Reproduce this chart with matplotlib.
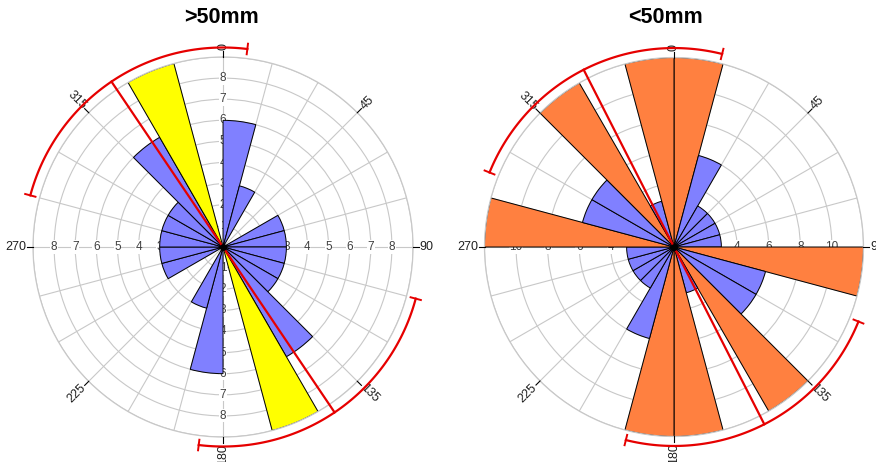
import numpy as np
import matplotlib
matplotlib.use('Agg')
import matplotlib.pyplot as plt

plt.rcParams['font.family'] = ['Liberation Sans', 'DejaVu Sans']

# 15 degree bins, compass bearing of the bin start
bin_start = np.arange(0, 360, 15)
bin_width = 15

# counts per bin, >50mm fractures
counts_large = [6, 3, 0, 0, 3, 3, 3, 3, 3, 6, 9, 0,
                6, 3, 0, 0, 3, 3, 3, 3, 3, 6, 9, 0]
# counts per bin, <50mm fractures
counts_small = [12, 6, 3, 3, 3, 3, 12, 6, 6, 12, 3, 12,
                12, 6, 3, 3, 3, 3, 12, 6, 6, 12, 3, 12]

# mean direction and confidence half-width (degrees)
mean_large, ci_large = 326, 41
mean_small, ci_small = 333, 41

titles = ['>50mm', '<50mm']
ring_max = [9, 12]
ring_step = [1, 2]
label_step = [1, 2]
peak_colors = ['#ffff00', '#ff8040']
base_color = '#8080ff'
red = '#e60000'
grid_col = '#c8c8c8'


def rose(ax, counts, rmax, rstep, lstep, peak_col, mean_dir, ci):
    ax.set_theta_zero_location('N')
    ax.set_theta_direction(-1)
    ax.set_ylim(0, rmax)
    ax.set_rgrids(np.arange(rstep, rmax + 0.1, rstep), labels=[])
    ax.set_thetagrids(np.arange(0, 360, 15), labels=[])
    ax.grid(True, color=grid_col, lw=0.8)
    ax.spines['polar'].set_color(grid_col)
    ax.spines['polar'].set_linewidth(0.9)
    ax.set_axisbelow(True)

    # ring values along the four main axes
    for ang in (0, 90, 180, 270):
        for v in np.arange(lstep, rmax - 0.5, lstep):
            ax.text(np.radians(ang), v, '%d' % v, ha='center', va='center',
                    fontsize=8.5, color='#404040', zorder=0.8,
                    bbox=dict(boxstyle='square,pad=0.05', fc='white', ec='none'))

    peak = max(counts)
    for b, c in zip(bin_start, counts):
        if c == 0:
            continue
        col = peak_col if c == peak else base_color
        ax.bar(np.radians(b), c, width=np.radians(bin_width), align='edge',
               color=col, edgecolor='black', linewidth=0.7, zorder=1)

    # direction ticks and labels outside the circle
    for d in range(0, 360, 45):
        th = np.radians(d)
        ax.plot([th, th], [rmax, rmax * 1.03], color='black', lw=0.8,
                clip_on=False, zorder=3)
        if d == 0:
            rot, ha = 90, 'left'
        elif d == 180:
            rot, ha = 90, 'right'
        elif d < 180:
            rot, ha = 90 - d, 'left'
        else:
            rot, ha = 270 - d, 'right'
        ax.text(th, rmax * 1.035, str(d), rotation=rot, rotation_mode='anchor',
                ha=ha, va='center', fontsize=9, color='#202020')

    # mean direction line and confidence arcs
    r_arc = rmax * 1.05
    cap = rmax * 0.028
    for m in (mean_dir, mean_dir - 180):
        th = np.radians(m)
        ax.plot([th, th], [0, r_arc], color=red, lw=1.6, zorder=4, clip_on=False)
        arc = np.radians(np.linspace(m - ci, m + ci, 120))
        ax.plot(arc, np.full_like(arc, r_arc), color=red, lw=1.6, zorder=4,
                clip_on=False)
        for e in (m - ci, m + ci):
            ax.plot([np.radians(e)] * 2, [r_arc - cap, r_arc + cap], color=red,
                    lw=1.4, zorder=4, clip_on=False)

    ax.plot(0, 0, 'o', color='black', ms=4, zorder=5)


fig = plt.figure(figsize=(8.76, 4.62), dpi=100)
ax1 = fig.add_axes([0.0377, 0.0541, 0.4338, 0.8225], projection='polar')
ax2 = fig.add_axes([0.5531, 0.0541, 0.4326, 0.8225], projection='polar')

rose(ax1, counts_large, ring_max[0], ring_step[0], label_step[0],
     peak_colors[0], mean_large, ci_large)
rose(ax2, counts_small, ring_max[1], ring_step[1], label_step[1],
     peak_colors[1], mean_small, ci_small)

fig.text(0.2523, 0.963, titles[0], ha='center', va='center', fontsize=15.5,
         fontweight='bold')
fig.text(0.760, 0.963, titles[1], ha='center', va='center', fontsize=15.5,
         fontweight='bold')

fig.savefig('out.png', dpi=100)
